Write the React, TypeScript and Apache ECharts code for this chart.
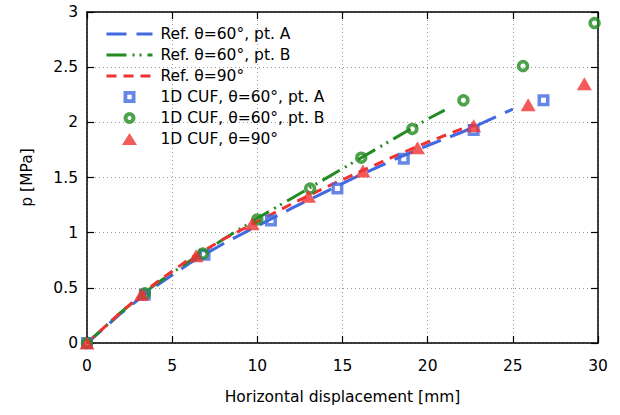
import React, { useEffect, useRef } from "react";
import * as echarts from "echarts";

// Reference curves
const refAx = [0, 2, 4, 6, 8, 10, 12, 14, 16, 18, 20, 22, 24, 25];
const refAy = [0, 0.27, 0.51, 0.72, 0.9, 1.06, 1.22, 1.37, 1.52, 1.66, 1.79, 1.91, 2.05, 2.12];
const refBx = [0, 2, 4, 6, 8, 10, 12, 14, 16, 18, 20, 21];
const refBy = [0, 0.28, 0.53, 0.74, 0.94, 1.13, 1.31, 1.49, 1.67, 1.85, 2.03, 2.11];
const ref90x = [0, 2, 4, 6, 8, 10, 12, 14, 16, 18, 20, 22, 22.7];
const ref90y = [0, 0.28, 0.54, 0.76, 0.94, 1.1, 1.26, 1.41, 1.55, 1.69, 1.82, 1.94, 1.98];

// 1D CUF results
const cufAx = [0, 3.4, 6.9, 10.8, 14.7, 18.6, 22.7, 26.8];
const cufAy = [0, 0.44, 0.8, 1.11, 1.4, 1.67, 1.93, 2.2];
const cufBx = [0, 3.4, 6.8, 10.0, 13.1, 16.1, 19.1, 22.1, 25.6, 29.8];
const cufBy = [0, 0.45, 0.81, 1.12, 1.4, 1.68, 1.94, 2.2, 2.51, 2.9];
const cuf90x = [0, 3.2, 6.4, 9.7, 13.0, 16.2, 19.4, 22.7, 25.9, 29.2];
const cuf90y = [0, 0.44, 0.79, 1.08, 1.33, 1.56, 1.77, 1.97, 2.16, 2.35];

const names = [
  "Ref. θ=60°, pt. A",
  "Ref. θ=60°, pt. B",
  "Ref. θ=90°",
  "1D CUF, θ=60°, pt. A",
  "1D CUF, θ=60°, pt. B",
  "1D CUF, θ=90°",
];

const BLUE = "#4169e1";
const GREEN = "#228b22";
const RED = "#f03232";
const FONT = "DejaVu Sans";
const FS = 15.5;

const SQUARE_ICON = "path://M0,0H12V12H0Z M3.8,3.8V8.2H8.2V3.8Z";
const CIRCLE_ICON = "path://M6.3,0A6.3,6.3 0 1,1 6.3,12.6A6.3,6.3 0 1,1 6.3,0Z M6.3,4.2A2.1,2.1 0 1,0 6.3,8.4A2.1,2.1 0 1,0 6.3,4.2Z";
const TRI_ICON = "path://M0,12L7.5,0L15,12Z";

const zip = (xs: number[], ys: number[]) => xs.map((x, i) => [x, ys[i]]);

export default function App() {
  const ref = useRef<HTMLDivElement>(null);
  useEffect(() => {
    if (!ref.current) return;
    const chart = echarts.init(ref.current, null, { renderer: "svg" });
    const axisLine = { show: true, onZero: false, lineStyle: { color: "#000", width: 1.5 } };
    const tick = { show: true, inside: true, length: 7, lineStyle: { color: "#000", width: 1.2 } };
    const split = { show: true, lineStyle: { color: "#9a9a9a", type: [1, 3] as any, width: 1 } };
    const lineSeries = (name: string, xs: number[], ys: number[], color: string, dash: number[]) => ({
      type: "line",
      name,
      data: zip(xs, ys),
      symbol: "none",
      showSymbol: false,
      lineStyle: { color, width: 3, type: dash },
      itemStyle: { color },
      z: 2,
    });
    const scatterSeries = (name: string, xs: number[], ys: number[], symbol: string, size: any, filled: boolean, color: string, bw: number) => ({
      type: "scatter",
      name,
      data: zip(xs, ys),
      symbol,
      symbolSize: size,
      clip: false,
      itemStyle: filled
        ? { color, borderWidth: 0 }
        : { color: "rgba(255,255,255,0)", borderColor: color, borderWidth: bw },
      z: 3,
    });
    chart.setOption({
      animation: false,
      grid: { left: 87, right: 22, top: 12, bottom: 72, containLabel: false },
      legend: {
        left: 105,
        top: 26,
        orient: "vertical",
        padding: 0,
        itemWidth: 46,
        itemHeight: 12,
        itemGap: 5,
        symbolKeepAspect: true,
        textStyle: { fontFamily: FONT, fontSize: FS, color: "#000", lineHeight: 16, padding: [0, 0, 0, 3] },
        data: [
          { name: names[0], lineStyle: { width: 3 }, itemStyle: { opacity: 0 } },
          { name: names[1], lineStyle: { width: 3 }, itemStyle: { opacity: 0 } },
          { name: names[2], lineStyle: { width: 3 }, itemStyle: { opacity: 0 } },
          { name: names[3], icon: SQUARE_ICON, itemStyle: { color: BLUE, borderWidth: 0 } },
          { name: names[4], icon: CIRCLE_ICON, itemStyle: { color: GREEN, borderWidth: 0 } },
          { name: names[5], icon: TRI_ICON, itemStyle: { color: RED, borderWidth: 0 } },
        ],
      },
      xAxis: [
        {
          type: "value",
          min: 0,
          max: 30,
          interval: 5,
          name: "Horizontal displacement [mm]",
          nameLocation: "middle",
          nameGap: 46,
          nameTextStyle: { fontFamily: FONT, fontSize: FS, color: "#000" },
          axisLine,
          axisTick: tick,
          axisLabel: { fontFamily: FONT, fontSize: FS, color: "#000", margin: 15 },
          splitLine: split,
        },
        {
          type: "value",
          position: "top",
          min: 0,
          max: 30,
          interval: 5,
          axisLine,
          axisTick: tick,
          axisLabel: { show: false },
          splitLine: { show: false },
        },
      ],
      yAxis: [
        {
          type: "value",
          min: 0,
          max: 3,
          interval: 0.5,
          name: "p [MPa]",
          nameLocation: "middle",
          nameGap: 52,
          nameTextStyle: { fontFamily: FONT, fontSize: FS, color: "#000" },
          axisLine,
          axisTick: tick,
          axisLabel: { fontFamily: FONT, fontSize: FS, color: "#000", margin: 9 },
          splitLine: split,
        },
        {
          type: "value",
          position: "right",
          min: 0,
          max: 3,
          interval: 0.5,
          axisLine,
          axisTick: tick,
          axisLabel: { show: false },
          splitLine: { show: false },
        },
      ],
      series: [
        lineSeries(names[0], refAx, refAy, BLUE, [20, 10]),
        lineSeries(names[1], refBx, refBy, GREEN, [20, 6, 2, 5, 2, 6]),
        lineSeries(names[2], ref90x, ref90y, RED, [10, 7]),
        scatterSeries(names[3], cufAx, cufAy, "rect", 8.5, false, BLUE, 3.5),
        scatterSeries(names[4], cufBx, cufBy, "circle", 8.8, false, GREEN, 3.6),
        scatterSeries(names[5], cuf90x, cuf90y, "triangle", [15, 13], true, RED, 0),
      ],
    });
    return () => chart.dispose();
  }, []);
  return <div ref={ref} style={{ width: 620, height: 415, position: "absolute", left: 0, top: 0 }} />;
}
